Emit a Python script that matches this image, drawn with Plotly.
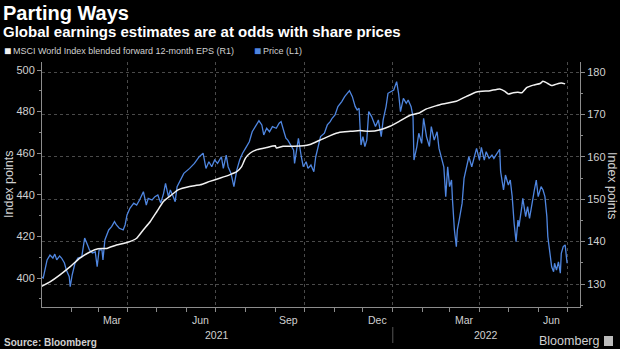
import plotly.graph_objects as go

# ---------------- data ----------------
price_dates = [
    "2021-01-01", "2021-01-03", "2021-01-07", "2021-01-10", "2021-01-13", "2021-01-15", "2021-01-17",
    "2021-01-20", "2021-01-22", "2021-01-25", "2021-01-27", "2021-01-30", "2021-01-31", "2021-02-02",
    "2021-02-05", "2021-02-08", "2021-02-12", "2021-02-15", "2021-02-18", "2021-02-20", "2021-02-23",
    "2021-02-26", "2021-02-28", "2021-03-02", "2021-03-05", "2021-03-06", "2021-03-08", "2021-03-12",
    "2021-03-15", "2021-03-18", "2021-03-20", "2021-03-23", "2021-03-27", "2021-03-29", "2021-03-31",
    "2021-04-03", "2021-04-07", "2021-04-10", "2021-04-13", "2021-04-17", "2021-04-20", "2021-04-22",
    "2021-04-26", "2021-04-29", "2021-05-02", "2021-05-05", "2021-05-08", "2021-05-10", "2021-05-13",
    "2021-05-15", "2021-05-18", "2021-05-20", "2021-05-22", "2021-05-29", "2021-06-04", "2021-06-09",
    "2021-06-14", "2021-06-18", "2021-06-21", "2021-06-24", "2021-06-27", "2021-06-30", "2021-07-03",
    "2021-07-07", "2021-07-09", "2021-07-12", "2021-07-14", "2021-07-17", "2021-07-20", "2021-07-23",
    "2021-07-26", "2021-07-29", "2021-08-01", "2021-08-05", "2021-08-08", "2021-08-12", "2021-08-15",
    "2021-08-18", "2021-08-20", "2021-08-23", "2021-08-26", "2021-08-29", "2021-09-02", "2021-09-05",
    "2021-09-07", "2021-09-10", "2021-09-12", "2021-09-14", "2021-09-17", "2021-09-20", "2021-09-21",
    "2021-09-23", "2021-09-25", "2021-09-28", "2021-09-30", "2021-10-03", "2021-10-05", "2021-10-08",
    "2021-10-11", "2021-10-13", "2021-10-16", "2021-10-18", "2021-10-22", "2021-10-25", "2021-10-28",
    "2021-10-30", "2021-11-02", "2021-11-05", "2021-11-09", "2021-11-12", "2021-11-17", "2021-11-20",
    "2021-11-23", "2021-11-25", "2021-11-27", "2021-11-29", "2021-12-01", "2021-12-03", "2021-12-05",
    "2021-12-07", "2021-12-10", "2021-12-14", "2021-12-17", "2021-12-20", "2021-12-22", "2021-12-25",
    "2021-12-27", "2021-12-30", "2022-01-02", "2022-01-05", "2022-01-07", "2022-01-09", "2022-01-12",
    "2022-01-15", "2022-01-17", "2022-01-20", "2022-01-22", "2022-01-23", "2022-01-26", "2022-01-28",
    "2022-01-31", "2022-02-02", "2022-02-05", "2022-02-08", "2022-02-10", "2022-02-13", "2022-02-16",
    "2022-02-18", "2022-02-22", "2022-02-23", "2022-02-25", "2022-02-27", "2022-03-01", "2022-03-03",
    "2022-03-04", "2022-03-06", "2022-03-08", "2022-03-09", "2022-03-11", "2022-03-13", "2022-03-14",
    "2022-03-16", "2022-03-19", "2022-03-21", "2022-03-24", "2022-03-27", "2022-03-29", "2022-04-01",
    "2022-04-03", "2022-04-06", "2022-04-08", "2022-04-11", "2022-04-14", "2022-04-16", "2022-04-19",
    "2022-04-22", "2022-04-23", "2022-04-26", "2022-04-28", "2022-05-01", "2022-05-03", "2022-05-05",
    "2022-05-07", "2022-05-09", "2022-05-11", "2022-05-12", "2022-05-15", "2022-05-16", "2022-05-19",
    "2022-05-21", "2022-05-23", "2022-05-25", "2022-05-28", "2022-05-30", "2022-06-01", "2022-06-04",
    "2022-06-06", "2022-06-08", "2022-06-10", "2022-06-11", "2022-06-13", "2022-06-15", "2022-06-17",
    "2022-06-18", "2022-06-20", "2022-06-22", "2022-06-24", "2022-06-25", "2022-06-27", "2022-06-29",
    "2022-07-01",
]
price_values = [
    400.6, 400.0, 408.7, 411.0, 409.6, 411.5, 408.7,
    410.6, 409.6, 407.2, 403.8, 400.6, 395.8, 401.4,
    407.2, 409.6, 410.2, 419.2, 415.9, 413.5, 412.0,
    412.6, 405.4, 413.5, 413.5, 408.7, 418.3, 423.1,
    424.7, 427.1, 425.5, 423.9, 423.1, 425.5, 430.3,
    433.5, 436.0, 435.1, 437.5, 441.5, 435.1, 438.3,
    437.5, 439.1, 439.9, 436.0, 440.7, 445.5, 439.1,
    442.3, 439.1, 436.7, 443.9, 450.3, 452.7, 455.1,
    458.3, 460.0, 452.7, 455.9, 453.5, 456.7, 455.1,
    458.3, 452.7, 459.1, 453.5, 450.3, 443.9, 451.9,
    456.7, 460.0, 462.3, 465.5, 470.3, 473.6, 475.6,
    473.6, 468.8, 472.0, 470.3, 472.8, 472.0, 474.4,
    475.2, 470.3, 467.2, 466.3, 463.9, 461.5, 455.1,
    461.5, 467.2, 458.3, 453.5, 455.9, 452.7, 454.3,
    451.1, 458.3, 464.7, 468.0, 469.6, 473.6, 475.2,
    476.8, 478.4, 482.4, 484.8, 487.2, 490.1, 487.2,
    482.4, 480.8, 481.6, 463.9, 468.0, 463.2, 466.3,
    480.0, 477.6, 472.8, 476.0, 468.0, 476.0, 482.4,
    488.8, 489.7, 490.4, 494.4, 488.8, 480.0, 486.4,
    484.0, 485.6, 482.4, 477.6, 456.7, 463.2, 469.6,
    464.7, 476.8, 468.0, 463.2, 472.8, 466.3, 470.3,
    462.3, 455.9, 453.5, 439.1, 453.5, 443.9, 447.1,
    437.5, 423.1, 415.1, 423.1, 427.9, 435.1, 436.0,
    447.9, 453.5, 458.3, 453.5, 458.3, 462.3, 456.7,
    462.8, 456.7, 460.7, 457.5, 459.1, 457.5, 460.0,
    461.9, 451.1, 442.3, 449.5, 444.7, 447.1, 439.1,
    426.3, 417.5, 427.9, 424.7, 434.3, 438.3, 429.5,
    434.3, 428.7, 435.1, 442.3, 447.1, 439.1, 443.9,
    442.3, 439.1, 429.5, 419.9, 412.7, 405.4, 403.0,
    407.1, 403.8, 407.8, 402.3, 411.9, 415.1, 415.9,
    407.1,
]

eps_dates = [
    "2021-01-01", "2021-01-10", "2021-01-20", "2021-01-31", "2021-02-10", "2021-02-21", "2021-03-01",
    "2021-03-10", "2021-03-20", "2021-03-31", "2021-04-10", "2021-04-17", "2021-04-24", "2021-05-01",
    "2021-05-08", "2021-05-15", "2021-05-23", "2021-06-04", "2021-06-15", "2021-06-25", "2021-07-06",
    "2021-07-16", "2021-07-23", "2021-07-28", "2021-08-01", "2021-08-06", "2021-08-13", "2021-08-23",
    "2021-09-01", "2021-09-02", "2021-09-09", "2021-09-20", "2021-09-30", "2021-10-07", "2021-10-17",
    "2021-10-28", "2021-11-07", "2021-11-18", "2021-11-28", "2021-12-08", "2021-12-19", "2021-12-29",
    "2022-01-08", "2022-01-19", "2022-01-29", "2022-02-05", "2022-02-16", "2022-02-19", "2022-03-08",
    "2022-03-19", "2022-03-29", "2022-04-12", "2022-04-22", "2022-04-27", "2022-05-01", "2022-05-06",
    "2022-05-11", "2022-05-15", "2022-05-20", "2022-05-27", "2022-06-03", "2022-06-06", "2022-06-11",
    "2022-06-15", "2022-06-22", "2022-06-25", "2022-06-29",
]
eps_values = [
    129.4, 130.5, 132.1, 134.1, 136.1, 137.6, 138.3,
    138.4, 139.2, 139.8, 140.8, 142.8, 144.7, 147.1,
    149.5, 150.8, 152.2, 153.0, 153.4, 154.2, 155.0,
    155.8, 156.5, 157.7, 159.7, 160.9, 161.7, 162.2,
    162.6, 162.1, 162.5, 162.5, 162.6, 162.9, 163.9,
    165.0, 165.8, 166.0, 166.2, 166.0, 166.4, 167.2,
    168.4, 169.8, 170.4, 171.3, 172.1, 172.3, 173.1,
    174.3, 175.3, 175.6, 176.0, 175.5, 174.8, 175.1,
    175.2, 175.1, 176.3, 176.9, 177.3, 177.8, 177.3,
    176.8, 177.3, 177.4, 177.2,
]

series_names = ["MSCI World Index blended forward 12-month EPS (R1)", "Price (L1)"]
month_label_text = ["Mar", "Jun", "Sep", "Dec", "Mar", "Jun"]
month_label_dates = ["2021-03-16", "2021-06-15", "2021-09-15", "2021-12-16", "2022-03-16", "2022-06-15"]
year_label_text = ["2021", "2022"]
year_label_dates = ["2021-07-02", "2022-04-08"]
year_break = "2022-01-01"
quarter_ticks = ["2021-01-01", "2021-04-01", "2021-07-01", "2021-10-01",
                 "2022-01-01", "2022-04-01", "2022-07-01"]
left_ticks = [400, 420, 440, 460, 480, 500]
right_ticks = [130, 140, 150, 160, 170, 180]

# ---------------- styling ----------------
BG = "#000000"
BLUE = "#4f86e0"
WHITE = "#f2f2f2"
AXIS = "#8c8c8c"
GRID = "#4a4a4a"
TXT = "#d0d0d0"
FONT = "Liberation Sans"

fig = go.Figure()

fig.add_trace(go.Scatter(
    x=price_dates, y=price_values, mode="lines", yaxis="y", name=series_names[1],
    line=dict(color=BLUE, width=1.3), showlegend=False, hoverinfo="skip"))
fig.add_trace(go.Scatter(
    x=eps_dates, y=eps_values, mode="lines", yaxis="y2", name=series_names[0],
    line=dict(color=WHITE, width=1.5, shape="spline", smoothing=0.4),
    showlegend=False, hoverinfo="skip"))

fig.update_layout(
    width=620, height=349,
    margin=dict(l=42, r=40, t=62, b=42, autoexpand=False),
    paper_bgcolor=BG, plot_bgcolor=BG,
    font=dict(family=FONT, color=TXT, size=11),
    showlegend=False,
    xaxis=dict(
        type="date",
        range=["2021-01-01 17:00", "2022-07-14 10:00"],
        tickmode="array", tickvals=quarter_ticks, ticktext=[""] * len(quarter_ticks),
        ticks="outside", ticklen=4, tickcolor=AXIS,
        showgrid=True, gridcolor=GRID, griddash="dot", gridwidth=1,
        showline=True, linecolor=AXIS, linewidth=1,
        minor=dict(dtick="M1", tick0="2021-01-01", ticks="outside", ticklen=4,
                   tickcolor=AXIS, showgrid=False),
        zeroline=False, fixedrange=True,
    ),
    yaxis=dict(
        range=[386.06, 503.85],
        tickmode="array", tickvals=left_ticks,
        ticks="outside", ticklen=4, tickcolor=AXIS,
        tickfont=dict(size=11, color=TXT),
        minor=dict(dtick=10, ticks="outside", ticklen=2, tickcolor=AXIS, showgrid=False),
        showgrid=False, showline=True, linecolor=AXIS, linewidth=1,
        zeroline=False,
    ),
    yaxis2=dict(
        range=[124.58, 182.36], overlaying="y", side="right",
        tickmode="array", tickvals=right_ticks,
        ticks="outside", ticklen=4, tickcolor=AXIS,
        tickfont=dict(size=11, color=TXT),
        minor=dict(dtick=5, ticks="outside", ticklen=2, tickcolor=AXIS, showgrid=False),
        showgrid=True, gridcolor=GRID, griddash="dot", gridwidth=1,
        showline=True, linecolor=AXIS, linewidth=1,
        zeroline=False,
    ),
)

def py(px):
    return (307 - px) / 245.0

def px_x(px):
    return (px - 42) / 538.0

ann = []
ann.append(dict(text="<b>Parting Ways</b>", xref="paper", yref="paper",
                x=px_x(1), y=py(13), xanchor="left", yanchor="middle", showarrow=False,
                font=dict(size=20, color="#ffffff", family=FONT)))
ann.append(dict(text="<b>Global earnings estimates are at odds with share prices</b>",
                xref="paper", yref="paper", x=px_x(1), y=py(31.5), xanchor="left",
                yanchor="middle", showarrow=False,
                font=dict(size=15, color="#ffffff", family=FONT)))
# legend: swatches + labels
ann.append(dict(text="■", xref="paper", yref="paper", x=px_x(2), y=py(50.5),
                xanchor="left", yanchor="middle", showarrow=False,
                font=dict(size=12, color=WHITE, family=FONT)))
ann.append(dict(text=series_names[0], xref="paper", yref="paper", x=px_x(11), y=py(50.5),
                xanchor="left", yanchor="middle", showarrow=False,
                font=dict(size=9, color=TXT, family=FONT)))
ann.append(dict(text="■", xref="paper", yref="paper", x=px_x(252), y=py(50.5),
                xanchor="left", yanchor="middle", showarrow=False,
                font=dict(size=12, color=BLUE, family=FONT)))
ann.append(dict(text=series_names[1], xref="paper", yref="paper", x=px_x(261), y=py(50.5),
                xanchor="left", yanchor="middle", showarrow=False,
                font=dict(size=9, color=TXT, family=FONT)))
ann.append(dict(text="Index points", xref="paper", yref="paper", x=px_x(9), y=py(185),
                textangle=-90, showarrow=False, xanchor="center", yanchor="middle",
                font=dict(size=12.5, color=TXT, family=FONT)))
ann.append(dict(text="Index points", xref="paper", yref="paper", x=px_x(612), y=py(185),
                textangle=90, showarrow=False, xanchor="center", yanchor="middle",
                font=dict(size=12.5, color=TXT, family=FONT)))
for t, d in zip(month_label_text, month_label_dates):
    ann.append(dict(text=t, xref="x", yref="paper", x=d, y=py(320), showarrow=False,
                    xanchor="center", yanchor="middle",
                    font=dict(size=10.5, color=TXT, family=FONT)))
for t, d in zip(year_label_text, year_label_dates):
    ann.append(dict(text=t, xref="x", yref="paper", x=d, y=py(335), showarrow=False,
                    xanchor="center", yanchor="middle",
                    font=dict(size=10.5, color=TXT, family=FONT)))
ann.append(dict(text="<b>Source: Bloomberg</b>", xref="paper", yref="paper",
                x=px_x(2), y=py(342), xanchor="left", yanchor="middle", showarrow=False,
                font=dict(size=10, color=TXT, family=FONT)))
ann.append(dict(text="Bloomberg", xref="paper", yref="paper",
                x=px_x(601), y=py(341), xanchor="right", yanchor="middle", showarrow=False,
                font=dict(size=12.5, color=TXT, family=FONT)))
fig.update_layout(annotations=ann)

fig.add_shape(type="line", xref="x", yref="paper", x0=year_break, x1=year_break,
              y0=py(327), y1=py(343), line=dict(color="#555555", width=1))
fig.add_shape(type="rect", xref="paper", yref="paper",
              x0=px_x(604), x1=px_x(613), y0=py(346), y1=py(336),
              fillcolor="#bbbbbb", line=dict(width=0))

fig.write_html("out.html")
